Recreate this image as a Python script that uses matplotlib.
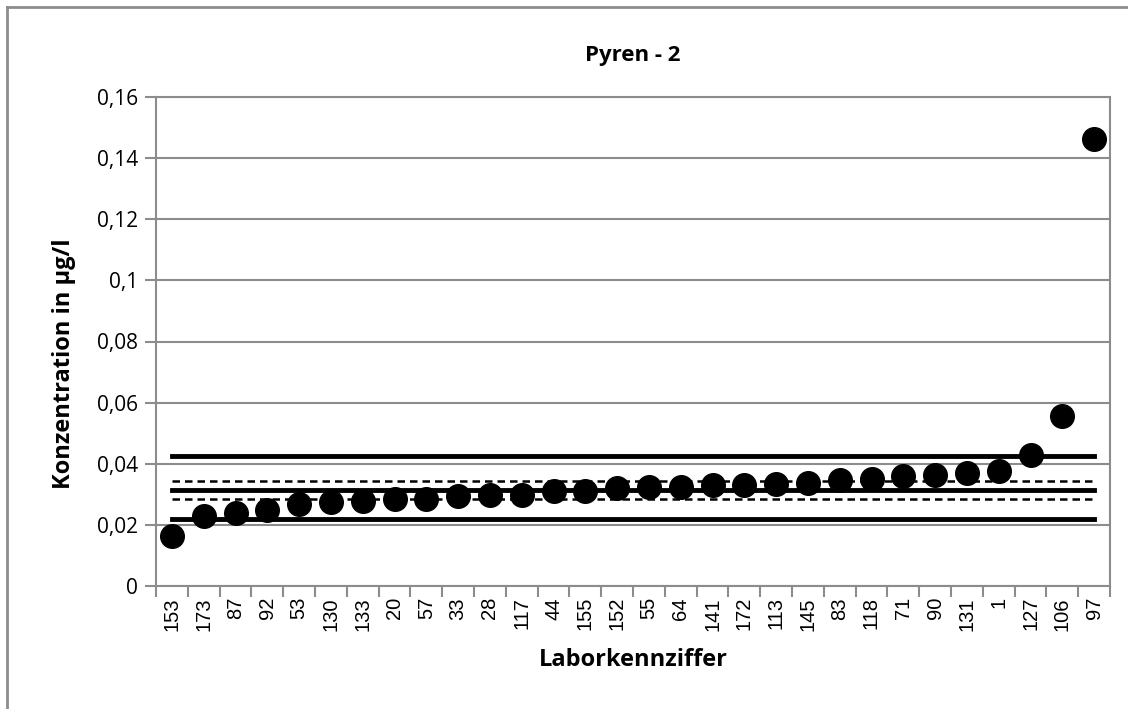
import matplotlib.pyplot as plt
from matplotlib.lines import Line2D
from matplotlib.ticker import FixedLocator, FuncFormatter

# Laborkennziffer und Messwerte (sortiert)
labs = ["153", "173", "87", "92", "53", "130", "133", "20", "57", "33",
        "28", "117", "44", "155", "152", "55", "64", "141", "172", "113",
        "145", "83", "118", "71", "90", "131", "1", "127", "106", "97"]
values = [0.0164, 0.0230, 0.0238, 0.0249, 0.0269, 0.0276, 0.0279, 0.0284, 0.0286, 0.0293,
          0.0298, 0.0298, 0.0312, 0.0312, 0.0320, 0.0324, 0.0324, 0.0331, 0.0331, 0.0333,
          0.0337, 0.0348, 0.0351, 0.0361, 0.0364, 0.0370, 0.0375, 0.0430, 0.0555, 0.1462]

# Referenzlinien
mittelwert = 0.0314
toleranz_oben = 0.0424
toleranz_unten = 0.0219
ki_oben = 0.0342
ki_unten = 0.0285

grey = "#8c8c8c"
n = len(labs)
x = list(range(n))

fig = plt.figure(figsize=(11.28, 7.09), dpi=100)
ax = fig.add_axes([156 / 1128, 1 - 586 / 709, (1110 - 156) / 1128, (586 - 97) / 709])

# Gitterlinien
ax.set_ylim(0, 0.16)
ax.set_xlim(-0.5, n - 0.5)
ax.yaxis.set_major_locator(FixedLocator([0.02 * i for i in range(9)]))
ax.grid(axis="y", color=grey, linewidth=1.5, zorder=0)

# Linien
ax.plot([0, n - 1], [toleranz_oben] * 2, color="black", lw=3.5, zorder=2)
ax.plot([0, n - 1], [toleranz_unten] * 2, color="black", lw=3.5, zorder=2)
ax.plot([0, n - 1], [mittelwert] * 2, color="black", lw=3.5, zorder=2)
ax.plot([0, n - 1], [ki_oben] * 2, color="black", lw=1.8, ls=(0, (3, 2)), zorder=2)
ax.plot([0, n - 1], [ki_unten] * 2, color="black", lw=1.8, ls=(0, (3, 2)), zorder=2)

# Punkte
ax.plot(x, values, "o", color="black", markersize=17, zorder=3, clip_on=False)

for s in ax.spines.values():
    s.set_color(grey)
    s.set_linewidth(1.5)

def fmt(v, pos):
    s = ("%.2f" % v).rstrip("0").rstrip(".")
    return s.replace(".", ",")

ax.yaxis.set_major_formatter(FuncFormatter(fmt))
ax.tick_params(axis="y", length=8, width=1.5, color=grey, labelsize=15, pad=5)
for t in ax.get_yticklabels():
    t.set_fontfamily("Open Sans")

ax.set_xticks(x)
ax.set_xticklabels(labs, rotation=90, fontsize=14.5, fontfamily="Liberation Sans")
ax.tick_params(axis="x", which="major", length=0, pad=8)
ax.set_xticks([i - 0.5 for i in range(n + 1)], minor=True)
ax.tick_params(axis="x", which="minor", length=8, width=1.5, color=grey)

ax.set_title("Pyren - 2", fontsize=16, fontweight="bold", fontfamily="Open Sans", pad=26)
ax.set_xlabel("Laborkennziffer", fontsize=17, fontweight="bold", fontfamily="Open Sans")
ax.set_ylabel("Konzentration in µg/l", fontsize=17, fontweight="bold", fontfamily="Open Sans")
ax.xaxis.set_label_coords(0.5, (586 - 648) / 489)
ax.yaxis.set_label_coords((76 - 156) / 954, (586 - 364) / 489)

# Rahmen der Grafik
fig.add_artist(Line2D([7 / 1128, 7 / 1128], [0, 1 - 7 / 709], color=grey, lw=2))
fig.add_artist(Line2D([7 / 1128, 1], [1 - 7 / 709, 1 - 7 / 709], color=grey, lw=2))

fig.savefig("out.png", dpi=100)
